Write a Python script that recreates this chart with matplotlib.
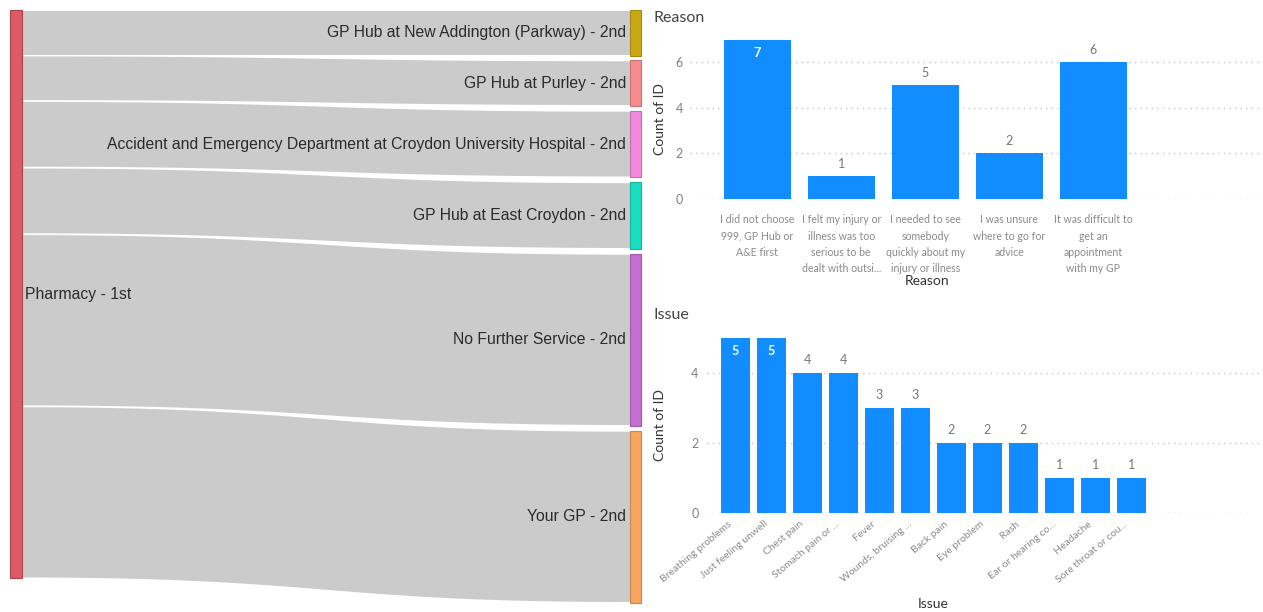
import numpy as np
import matplotlib
matplotlib.use("Agg")
import matplotlib.pyplot as plt
import matplotlib.transforms as mtransforms
from matplotlib.patches import Polygon, Rectangle

# ---------------- data ----------------
source_name = "Pharmacy - 1st"
target_names = [
    "GP Hub at New Addington (Parkway) - 2nd",
    "GP Hub at Purley - 2nd",
    "Accident and Emergency Department at Croydon University Hospital - 2nd",
    "GP Hub at East Croydon - 2nd",
    "No Further Service - 2nd",
    "Your GP - 2nd",
]
target_values = [2, 2, 3, 3, 8, 8]
target_colors = ["#C9A816", "#F88C8A", "#F387DC", "#1ADDC2", "#C56ED2", "#F8A55D"]
source_color = "#DB5B66"

reason_labels = [
    "I did not choose\n999, GP Hub or\nA&E first",
    "I felt my injury or\nillness was too\nserious to be\ndealt with outsi...",
    "I needed to see\nsomebody\nquickly about my\ninjury or illness",
    "I was unsure\nwhere to go for\nadvice",
    "It was difficult to\nget an\nappointment\nwith my GP",
]
reason_counts = [7, 1, 5, 2, 6]

issue_labels = [
    "Breathing problems", "Just feeling unwell", "Chest pain",
    "Stomach pain or ...", "Fever", "Wounds, bruising ...", "Back pain",
    "Eye problem", "Rash", "Ear or hearing co...", "Headache",
    "Sore throat or cou...",
]
issue_counts = [5, 5, 4, 4, 3, 3, 2, 2, 2, 1, 1, 1]

# ---------------- figure ----------------
W, H = 1263, 612
fig = plt.figure(figsize=(W / 100, H / 100), dpi=100)
fig.patch.set_facecolor("white")

SANS = ["Liberation Sans", "DejaVu Sans"]
UI = ["Lato", "DejaVu Sans"]
BAR_BLUE = "#118DFF"

# ---------------- sankey (pixel layout) ----------------
ax_s = fig.add_axes([0, 0, 1, 1])
ax_s.set_xlim(0, W)
ax_s.set_ylim(H, 0)
ax_s.axis("off")

SRC_X0, SRC_X1 = 10, 22
TGT_X0, TGT_X1 = 630, 641
TOP = 10
PX_PER_UNIT = 21.1
LINK_PAD = 3.3
NODE_GAP = 4.9
LINK_INSET = 0.9   # white seam between neighbouring links

thick = [v * PX_PER_UNIT + LINK_PAD for v in target_values]
src_h = sum(thick)


def bez(p0, p1, p2, p3, t):
    return ((1 - t) ** 3) * p0 + 3 * ((1 - t) ** 2) * t * p1 + 3 * (1 - t) * t ** 2 * p2 + t ** 3 * p3


t = np.linspace(0, 1, 200)
xm = (SRC_X1 + TGT_X0) / 2
xs = bez(SRC_X1, xm, xm, TGT_X0, t)

ys = TOP
yt = TOP
for name, th, col in zip(target_names, thick, target_colors):
    top = bez(ys, ys, yt, yt, t) + LINK_INSET
    bot = bez(ys + th, ys + th, yt + th, yt + th, t) - LINK_INSET
    verts = np.vstack([np.column_stack([xs, top]), np.column_stack([xs[::-1], bot[::-1]])])
    ax_s.add_patch(Polygon(verts, closed=True, facecolor="#CBCBCB",
                           edgecolor="none", zorder=1))
    edge_col = np.array(matplotlib.colors.to_rgb(col)) * 0.82
    ax_s.add_patch(Rectangle((TGT_X0, yt), TGT_X1 - TGT_X0, th, facecolor=col,
                             edgecolor=edge_col, linewidth=0.8, zorder=3))
    ax_s.text(TGT_X0 - 4, yt + th / 2, name, ha="right", va="center",
              fontsize=11.3, color="#2b2b2b", family=SANS, zorder=4)
    ys += th
    yt += th + NODE_GAP

ax_s.add_patch(Rectangle((SRC_X0, TOP), SRC_X1 - SRC_X0, src_h, facecolor=source_color,
                         edgecolor="#B5404C", linewidth=0.8, zorder=3))
ax_s.text(SRC_X1 + 3, TOP + src_h / 2, source_name, ha="left", va="center",
          fontsize=11.3, color="#2b2b2b", family=SANS, zorder=4)


# ---------------- bar panels ----------------
def px_rect(left, right, top, bottom):
    return [left / W, (H - bottom) / H, (right - left) / W, (bottom - top) / H]


def bar_panel(rect, values, ymax, yticks, xlim, ytick_pad):
    ax = fig.add_axes(rect)
    ax.patch.set_alpha(0)
    x = np.arange(len(values))
    ax.bar(x, values, width=0.8, color=BAR_BLUE, zorder=2)
    ax.set_ylim(0, ymax)
    ax.set_xlim(*xlim)
    ax.set_yticks(yticks)
    ax.yaxis.grid(True, linestyle=(0, (1, 3)), color="#C8C8C8", linewidth=1)
    ax.set_axisbelow(True)
    for s in ax.spines.values():
        s.set_visible(False)
    ax.tick_params(axis="both", length=0, labelsize=9, labelcolor="#808080")
    ax.tick_params(axis="y", pad=ytick_pad)
    for lab in ax.get_yticklabels():
        lab.set_family(UI)
    for i, v in enumerate(values):
        if v > ymax * 0.9:
            ax.annotate(str(v), (i, v), xytext=(0, -10), textcoords="offset points",
                        ha="center", va="center", fontsize=9, color="white",
                        fontweight="bold", family=UI)
        else:
            ax.annotate(str(v), (i, v), xytext=(0, 9), textcoords="offset points",
                        ha="center", va="center", fontsize=9, color="#777777", family=UI)
    ax.set_ylabel("Count of ID", fontsize=10, color="#333333", family=UI)
    ax.yaxis.label.set_va("center")
    return ax, x


# Reason
ax_r, xr = bar_panel(px_rect(690, 1263, 39.5, 199), reason_counts,
                     7, [0, 2, 4, 6], (-0.8, 6.02), 5)
ax_r.set_xticks(xr)
ax_r.set_xticklabels(reason_labels, family=UI, linespacing=1.6, fontsize=7.6)
ax_r.tick_params(axis="x", pad=11, labelcolor="#8a8a8a")
ax_r.set_xlabel("Reason", fontsize=10, color="#333333", family=UI)
ax_r.xaxis.set_label_coords((927 - 690) / 573, -(281 - 199) / (199 - 39.5))
ax_r.xaxis.label.set_va("center")
ax_r.yaxis.set_label_coords((660 - 690) / 573, 0.5)
fig.text(654 / W, 1 - 18 / H, "Reason", ha="left", va="center", fontsize=11.5,
         color="#444444", family=UI)

# Issue
ax_i, xi = bar_panel(px_rect(707, 1263, 337.5, 513), issue_counts,
                     5, [0, 2, 4], (-0.79, 14.65), 6)
ax_i.set_xticks(xi)
ax_i.set_xticklabels(issue_labels, family=UI, rotation=40, ha="right",
                     rotation_mode="anchor", va="center", fontsize=7.5)
ax_i.tick_params(axis="x", pad=7, labelcolor="#8a8a8a")
shift = mtransforms.ScaledTranslation(-5 / 100, 0, fig.dpi_scale_trans)
for lab in ax_i.get_xticklabels():
    lab.set_transform(lab.get_transform() + shift)
ax_i.set_xlabel("Issue", fontsize=10, color="#333333", family=UI)
ax_i.xaxis.set_label_coords((933 - 707) / 556, -(604 - 513) / (513 - 337.5))
ax_i.xaxis.label.set_va("center")
ax_i.yaxis.set_label_coords((660 - 707) / 556, 0.5)
fig.text(654 / W, 1 - 315 / H, "Issue", ha="left", va="center", fontsize=11.5,
         color="#444444", family=UI)

fig.savefig("out.png", dpi=100, facecolor="white")
